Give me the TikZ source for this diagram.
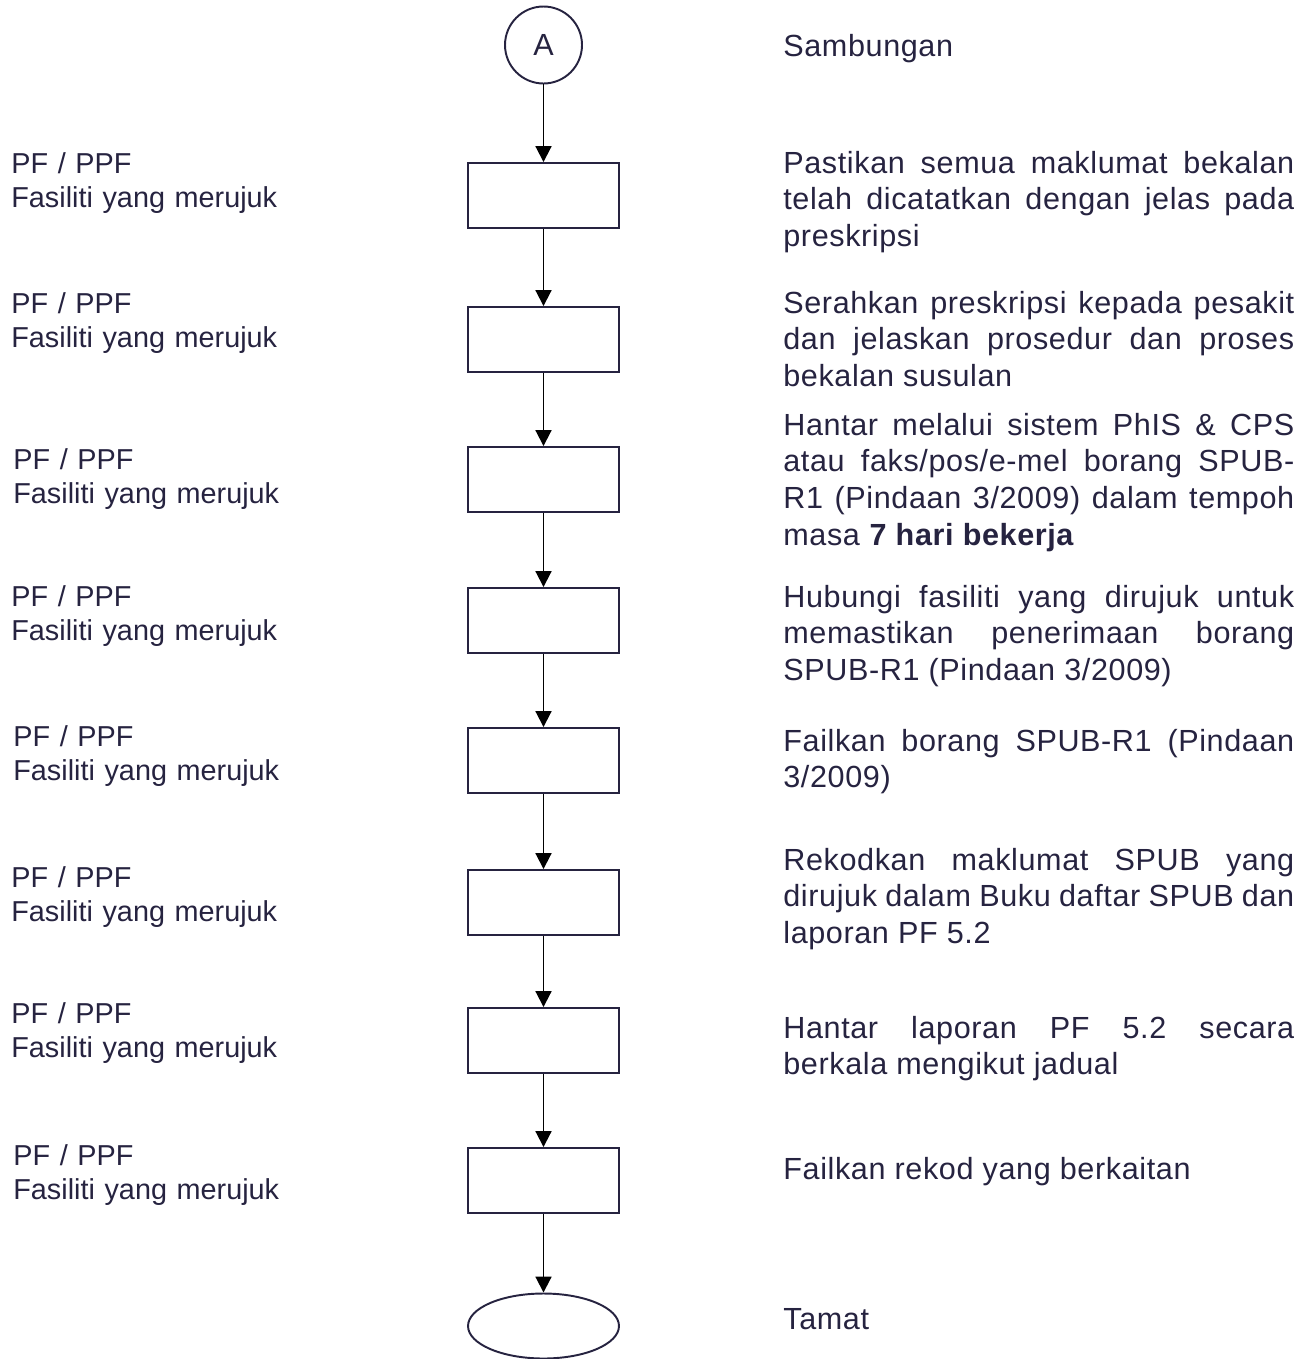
\documentclass[tikz,border=0pt]{standalone}
\usepackage{fontspec}
\setmainfont{Liberation Sans}
\newfontfamily\descfont[LetterSpace=2]{Liberation Sans}
\usetikzlibrary{positioning, arrows.meta, shapes.geometric}
\definecolor{navy}{RGB}{38,35,64}
\tolerance=10000
\hbadness=10000

\begin{document}
\begin{tikzpicture}[
  x=0.02cm, y=-0.02cm,
  every node/.style={font=\descfont\fontsize{17.4}{21}\selectfont, text=navy},
  proc/.style={draw=navy, line width=1.1pt, minimum width=3.02cm, minimum height=1.3cm, inner sep=0pt},
  who/.style={anchor=base west, inner sep=0pt, text width=8cm, align=left, font=\rmfamily\fontsize{16.4}{19.9}\selectfont},
  desc/.style={anchor=base west, inner sep=0pt, text width=10.22cm, align=justify},
  arr/.style={-{Triangle[length=9pt, width=9pt]}, line width=1.1pt, black}
]
  \useasboundingbox (0,0) rectangle (1309,1359);

  % flow
  \node[circle, draw=navy, line width=1.1pt, minimum size=1.54cm, inner sep=0pt] (A) at (543.5,45) {A};
  \node[proc] (b1) at (543.5,195.5) {};
  \node[proc] (b2) at (543.5,339.5) {};
  \node[proc] (b3) at (543.5,479.5) {};
  \node[proc] (b4) at (543.5,620.5) {};
  \node[proc] (b5) at (543.5,760.5) {};
  \node[proc] (b6) at (543.5,902.5) {};
  \node[proc] (b7) at (543.5,1040.5) {};
  \node[proc] (b8) at (543.5,1180.5) {};
  \node[ellipse, draw=navy, line width=1.1pt, minimum width=3.02cm, minimum height=1.3cm, inner sep=0pt] (end) at (543.5,1326) {};

  \draw[arr] (A)  -- (b1);
  \draw[arr] (b1) -- (b2);
  \draw[arr] (b2) -- (b3);
  \draw[arr] (b3) -- (b4);
  \draw[arr] (b4) -- (b5);
  \draw[arr] (b5) -- (b6);
  \draw[arr] (b6) -- (b7);
  \draw[arr] (b7) -- (b8);
  \draw[arr] (b8) -- (end);

  % who does it
  \node[who] (w1) at (11,173)  {PF / PPF\\Fasiliti yang merujuk};
  \node[who] (w2) at (11,313)  {PF / PPF\\Fasiliti yang merujuk};
  \node[who] (w3) at (13,469)  {PF / PPF\\Fasiliti yang merujuk};
  \node[who] (w4) at (11,606)  {PF / PPF\\Fasiliti yang merujuk};
  \node[who] (w5) at (13,746)  {PF / PPF\\Fasiliti yang merujuk};
  \node[who] (w6) at (11,887)  {PF / PPF\\Fasiliti yang merujuk};
  \node[who] (w7) at (11,1023) {PF / PPF\\Fasiliti yang merujuk};
  \node[who] (w8) at (13,1165) {PF / PPF\\Fasiliti yang merujuk};

  % what is done
  \node[desc] (d0) at (783,56)   {Sambungan};
  \node[desc] (d1) at (783,173)  {Pastikan semua maklumat bekalan\linebreak telah dicatatkan dengan jelas pada\linebreak preskripsi};
  \node[desc] (d2) at (783,313)  {Serahkan preskripsi kepada pesakit\linebreak dan jelaskan prosedur dan proses\linebreak bekalan susulan};
  \node[desc] (d3) at (783,435)  {Hantar melalui sistem PhIS \& CPS\linebreak atau faks/pos/e-mel borang SPUB-\linebreak R1 (Pindaan 3/2009) dalam tempoh\linebreak masa \textbf{7 hari bekerja}};
  \node[desc] (d4) at (783,607)  {Hubungi fasiliti yang dirujuk untuk\linebreak memastikan penerimaan borang\linebreak SPUB-R1 (Pindaan 3/2009)};
  \node[desc] (d5) at (783,751)  {Failkan borang SPUB-R1 (Pindaan\linebreak 3/2009)};
  \node[desc] (d6) at (783,870)  {Rekodkan maklumat SPUB yang\linebreak dirujuk dalam Buku daftar SPUB dan\linebreak laporan PF 5.2};
  \node[desc] (d7) at (783,1038) {Hantar laporan PF 5.2 secara\linebreak berkala mengikut jadual};
  \node[desc] (d8) at (783,1179) {Failkan rekod yang berkaitan};
  \node[desc] (d9) at (783,1329) {Tamat};
\end{tikzpicture}
\end{document}
